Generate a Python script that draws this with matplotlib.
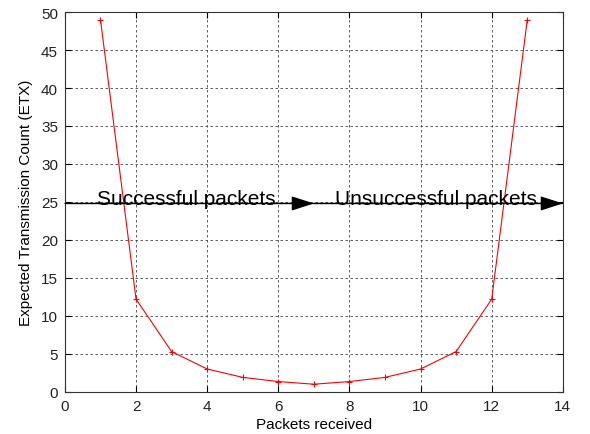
import matplotlib.pyplot as plt

plt.rcParams['font.family'] = ['Liberation Sans', 'DejaVu Sans']

# ETX per number of packets received
packets = [1, 2, 3, 4, 5, 6, 7, 8, 9, 10, 11, 12, 13]
etx = [49.0, 12.2, 5.3, 3.0, 1.9, 1.35, 1.0, 1.35, 1.9, 3.0, 5.3, 12.2, 49.0]

arrow_y = 24.8
labels = ['Successful packets', 'Unsuccessful packets']
label_x = [0.9, 7.6]

fig = plt.figure(figsize=(5.9, 4.35), dpi=100)
ax = fig.add_axes([0.110, 0.097, 0.844, 0.873])

ax.plot(packets, etx, color='red', linewidth=0.8, marker='+', markersize=5,
        markeredgewidth=0.8)

# separator line with two arrow heads
ax.plot([0, 14], [arrow_y, arrow_y], color='black', linewidth=0.9)
for x0, x1 in [(0, 7), (7, 14)]:
    ax.annotate('', xy=(x1, arrow_y), xytext=(x0, arrow_y),
                arrowprops=dict(arrowstyle='-|>,head_length=1.4,head_width=0.45',
                                mutation_scale=10, color='black', lw=0.9,
                                shrinkA=0, shrinkB=0))
for x, s in zip(label_x, labels):
    ax.text(x, arrow_y - 0.1, s, fontsize=15, va='baseline', ha='left')

ax.set_xlim(0, 14)
ax.set_ylim(0, 50)
ax.set_xticks(range(0, 15, 2))
ax.set_yticks(range(0, 51, 5))
ax.grid(True, color='#444444', linestyle=(0, (3, 3)), linewidth=0.6)
ax.tick_params(direction='in', top=True, right=True, labelsize=11, length=4,
               pad=5, labelcolor='#222222')
for sp in ax.spines.values():
    sp.set_linewidth(0.8)
    sp.set_color('#333333')

ax.set_xlabel('Packets received', fontsize=11, labelpad=3)
ax.set_ylabel('Expected Transmission Count (ETX)', fontsize=11, labelpad=6)

fig.savefig('out.png')
